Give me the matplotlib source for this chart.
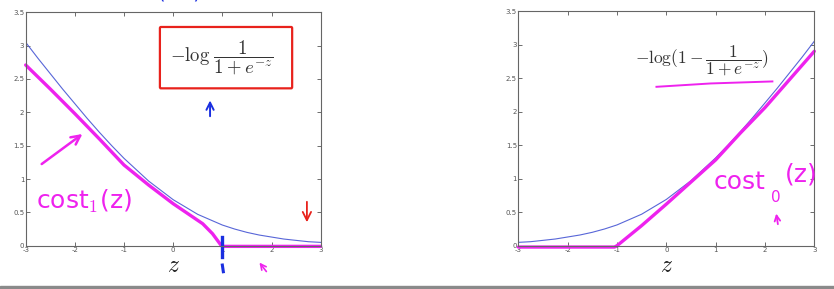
import matplotlib
matplotlib.use("Agg")
from matplotlib import pyplot as plt
from matplotlib.patches import FancyBboxPatch

plt.rcParams['mathtext.fontset'] = 'cm'

# values
z = [-3, -2.75, -2.5, -2.25, -2, -1.75, -1.5, -1.25, -1, -0.75, -0.5, -0.25,
     0, 0.25, 0.5, 0.75, 1, 1.25, 1.5, 1.75, 2, 2.25, 2.5, 2.75, 3]
blue_left = [3.05, 2.81, 2.58, 2.35, 2.13, 1.91, 1.70, 1.50, 1.31, 1.14, 0.97, 0.83,
             0.69, 0.58, 0.47, 0.39, 0.31, 0.25, 0.20, 0.16, 0.13, 0.10, 0.08, 0.06, 0.05]
blue_right = [0.05, 0.06, 0.08, 0.10, 0.13, 0.16, 0.20, 0.25, 0.31, 0.39, 0.47, 0.58,
              0.69, 0.83, 0.97, 1.14, 1.31, 1.50, 1.70, 1.91, 2.13, 2.35, 2.58, 2.81, 3.05]

cost1_z = [-3, -2.5, -2, -1.5, -1, -0.5, 0, 0.3, 0.6, 0.8, 0.9, 0.97, 1.0, 2, 3]
cost1_y = [2.71, 2.35, 1.98, 1.60, 1.21, 0.91, 0.63, 0.48, 0.33, 0.18, 0.08, 0.01,
           -0.01, -0.01, -0.01]

cost0_z = [-3, -2, -1.05, -1, -0.5, 0, 0.5, 1, 1.5, 2, 2.5, 3]
cost0_y = [-0.02, -0.02, -0.02, 0.0, 0.3, 0.62, 0.95, 1.28, 1.68, 2.06, 2.48, 2.9]

xticks = [-3, -2, -1, 0, 1, 2, 3]
yticks = [0, 0.5, 1, 1.5, 2, 2.5, 3, 3.5]
ytick_labels = ['0', '0.5', '1', '1.5', '2', '2.5', '3', '3.5']

BLUE = '#5866d8'
MAG = '#ee22ee'
PEN_BLUE = '#1a2fe0'
RED = '#e8221c'

fig = plt.figure(figsize=(8.34, 2.89), dpi=100)
ax1 = fig.add_axes([0.0308, 0.1498, 0.3537, 0.8076])
ax2 = fig.add_axes([0.6215, 0.1498, 0.3549, 0.812])


def style(ax):
    ax.set_xlim(-3, 3)
    ax.set_ylim(0, 3.5)
    ax.set_xticks(xticks)
    ax.set_xticklabels([str(t) for t in xticks])
    ax.set_yticks(yticks)
    ax.set_yticklabels(ytick_labels)
    ax.tick_params(direction='in', length=3, width=0.6, top=True, right=True,
                   labelsize=5, colors='#555555', pad=1)
    for s in ax.spines.values():
        s.set_color('#666666')
        s.set_linewidth(0.8)
    ax.set_xlabel('$z$', fontsize=17, labelpad=0, color='#222222')


style(ax1)
style(ax2)

# left panel
ax1.plot(z, blue_left, color=BLUE, lw=0.8)
ax1.plot(cost1_z, cost1_y, color=MAG, lw=2.4, clip_on=False, solid_capstyle='round')
ax1.text(1.0, 2.82, r'$-\log\,\dfrac{1}{1+e^{-z}}$', fontsize=13.5, ha='center', va='center',
         color='#333333')
box = FancyBboxPatch((-0.25, 2.38), 2.65, 0.88, boxstyle='round,pad=0.02',
                     fill=False, ec=RED, lw=1.6)
ax1.add_patch(box)
ax1.annotate('', xy=(0.75, 2.22), xytext=(0.75, 1.90),
             arrowprops=dict(arrowstyle='->', color=PEN_BLUE, lw=1.4, mutation_scale=13))
ax1.annotate('', xy=(2.72, 0.31), xytext=(2.72, 0.70),
             arrowprops=dict(arrowstyle='->', color=RED, lw=1.3, mutation_scale=15))
ax1.annotate('', xy=(-1.8, 1.70), xytext=(-2.72, 1.20),
             arrowprops=dict(arrowstyle='->', color=MAG, lw=1.8, mutation_scale=16))
ax1.text(-2.8, 0.66, 'cost$_1$(z)', fontsize=18, color=MAG, ha='left', va='center')
ax1.plot([1.0, 1.0], [0.13, -0.17], color=PEN_BLUE, lw=2.4, clip_on=False)
ax1.plot([1.0, 1.02], [-0.29, -0.39], color=PEN_BLUE, lw=2.2, clip_on=False)
ax1.annotate('', xy=(1.72, -0.22), xytext=(1.93, -0.42), annotation_clip=False,
             arrowprops=dict(arrowstyle='->', color=MAG, lw=1.2))
fig.text(0.215, 1.025, '(=0)', color=PEN_BLUE, fontsize=14, ha='center', va='center')

# right panel
ax2.plot(z, blue_right, color=BLUE, lw=0.8)
ax2.plot(cost0_z, cost0_y, color=MAG, lw=2.4, clip_on=False, solid_capstyle='round')
ax2.text(0.72, 2.76, r'$-\log(1-\dfrac{1}{1+e^{-z}})$', fontsize=12.5, ha='center',
         va='center', color='#333333')
ax2.plot([-0.2, 0.9, 2.15], [2.37, 2.42, 2.45], color=MAG, lw=1.4)
ax2.text(0.95, 0.95, 'cost', fontsize=18, color=MAG, ha='left', va='center')
ax2.text(2.22, 0.72, '0', fontsize=11, color=MAG, ha='center', va='center')
ax2.text(2.4, 1.06, '(z)', fontsize=18, color=MAG, ha='left', va='center', clip_on=False)
ax2.annotate('', xy=(2.22, 0.52), xytext=(2.27, 0.28),
             arrowprops=dict(arrowstyle='->', color=MAG, lw=1.3))

# grey strip at the bottom of the screenshot
fig.patches.append(plt.Rectangle((0, 0), 1, 0.012, transform=fig.transFigure,
                                 color='#8a8a8a', zorder=0))

fig.savefig('out.png', dpi=100)
